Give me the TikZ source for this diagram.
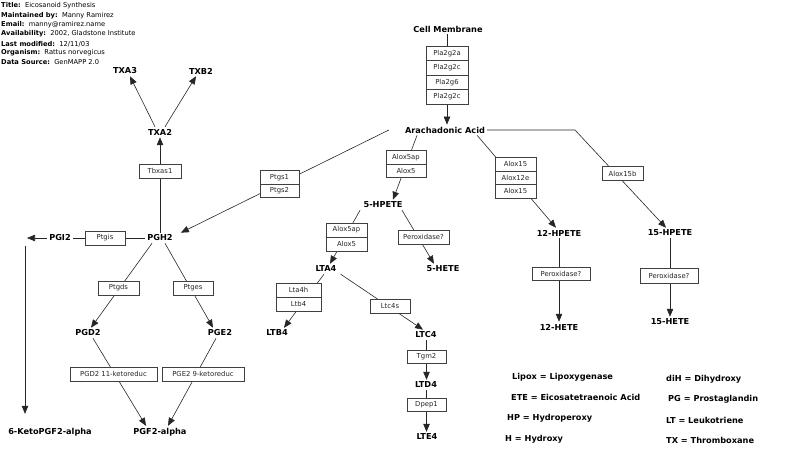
\documentclass[tikz,border=0pt]{standalone}
\usepackage{fontspec}
\setmainfont{DejaVu Sans}
\usetikzlibrary{arrows.meta,backgrounds}

\begin{document}
\begin{tikzpicture}[x=1pt,y=-1pt,
  met/.style={font=\fontsize{8.2}{9}\selectfont\bfseries, inner sep=2pt},
  gene/.style={draw=black!75, fill=white, line width=0.5pt, text=black!85,
    font=\fontsize{6.85}{7}\selectfont, inner sep=1pt, minimum height=14pt, minimum width=41pt},
  hdr/.style={anchor=west, font=\fontsize{6.7}{7}\selectfont, inner sep=0pt},
  key/.style={anchor=west, font=\fontsize{8.2}{9}\selectfont\bfseries, inner sep=0pt},
  pw/.style={draw=black!85, line width=0.6pt},
  pwarr/.style={pw, -{Triangle[length=8pt,width=6.5pt]}}]
\useasboundingbox (0,0) rectangle (800,457);

\node[hdr] (hdTitle) at (1,6) {\textbf{Title:}\ \ Eicosanoid Synthesis};
\node[hdr] (hdMaint) at (1,16) {\textbf{Maintained by:}\ \ Manny Ramirez};
\node[hdr] (hdEmail) at (1,25) {\textbf{Email:}\ \ manny@ramirez.name};
\node[hdr] (hdAvail) at (1,34) {\textbf{Availability:}\ \ 2002, Gladstone Institute};
\node[hdr] (hdMod) at (1,44) {\textbf{Last modified:}\ \ 12/11/03};
\node[hdr] (hdOrg) at (1,53) {\textbf{Organism:}\ \ Rattus norvegicus};
\node[hdr] (hdSrc) at (1,62) {\textbf{Data Source:}\ \ GenMAPP 2.0};

% metabolites
\node[met] (cm) at (448,29) {Cell Membrane};
\node[met] (aa) at (445,130) {Arachadonic Acid};
\node[met] (txa3) at (125,71) {TXA3};
\node[met] (txb2) at (201,71) {TXB2};
\node[met] (txa2) at (160,132) {TXA2};
\node[met] (pgh2) at (160,238) {PGH2};
\node[met, fill=white] (pgi2) at (60,238) {PGI2};
\node[met] (keto) at (50,432) {6-KetoPGF2-alpha};
\node[met] (pgd2) at (88,333) {PGD2};
\node[met] (pge2) at (220,333) {PGE2};
\node[met] (pgf) at (160,432) {PGF2-alpha};
\node[met] (hp5) at (383,205) {5-HPETE};
\node[met] (hete5) at (443,269) {5-HETE};
\node[met] (lta4) at (326,269) {LTA4};
\node[met] (ltb4) at (277,333) {LTB4};
\node[met] (ltc4) at (426,335) {LTC4};
\node[met] (ltd4) at (426,385) {LTD4};
\node[met] (lte4) at (427,437) {LTE4};
\node[met] (hp12) at (559,233) {12-HPETE};
\node[met] (hete12) at (559,327) {12-HETE};
\node[met] (hp15) at (670,233) {15-HPETE};
\node[met] (hete15) at (670,322) {15-HETE};

% enzymes
\node[gene, minimum width=42pt, minimum height=14.5pt] (pla1) at (447,53.5) {Pla2g2a};
\node[gene, minimum width=42pt, minimum height=14.5pt] (pla2) at (447,68) {Pla2g2c};
\node[gene, minimum width=42pt, minimum height=14.5pt] (pla3) at (447,82.5) {Pla2g6};
\node[gene, minimum width=42pt, minimum height=14.5pt] (pla4) at (447,97) {Pla2g2c};
\node[gene, minimum width=42pt] (tbxas) at (160,171) {Tbxas1};
\node[gene, minimum width=39pt, minimum height=13.5pt] (ptgs1) at (279.5,177.5) {Ptgs1};
\node[gene, minimum width=39pt, minimum height=13.5pt] (ptgs2) at (279.5,191) {Ptgs2};
\node[gene, minimum width=40pt, minimum height=13.5pt] (alox5apA) at (406,157.5) {Alox5ap};
\node[gene, minimum width=40pt, minimum height=13.5pt] (alox5A) at (406,171) {Alox5};
\node[gene, minimum height=13.7pt] (alox15a) at (515.5,164) {Alox15};
\node[gene, minimum height=13.7pt] (alox12e) at (515.5,177.7) {Alox12e};
\node[gene, minimum height=13.7pt] (alox15c) at (515.5,191.4) {Alox15};
\node[gene, minimum height=13.5pt] (alox15b) at (622.5,173.5) {Alox15b};
\node[gene, minimum width=40pt] (ptgis) at (105,238) {Ptgis};
\node[gene] (alox5apB) at (346.5,230) {Alox5ap};
\node[gene] (alox5B) at (346.5,244) {Alox5};
\node[gene, minimum width=51pt] (perox5) at (423.5,237) {Peroxidase?};
\node[gene, minimum width=45pt] (lta4h) at (298.5,290) {Lta4h};
\node[gene, minimum width=45pt] (ltb4e) at (298.5,304) {Ltb4};
\node[gene, minimum width=40pt] (ltc4s) at (390,306) {Ltc4s};
\node[gene, minimum width=39pt, minimum height=13pt] (tgm2) at (426.5,356.5) {Tgm2};
\node[gene, minimum width=39pt, minimum height=13pt] (dpep1) at (426.5,404.5) {Dpep1};
\node[gene] (ptgds) at (118.5,288) {Ptgds};
\node[gene, minimum width=40pt] (ptges) at (193,288) {Ptges};
\node[gene, minimum width=87pt] (pgd2red) at (113.5,374) {PGD2 11-ketoreduc};
\node[gene, minimum width=82pt] (pge2red) at (203,374) {PGE2 9-ketoreduc};
\node[gene, minimum width=58pt, minimum height=13.5pt] (perox12) at (561,273.5) {Peroxidase?};
\node[gene, minimum width=58pt, minimum height=15pt] (perox15) at (669,275.5) {Peroxidase?};

\coordinate (bend15) at (575,130);
\coordinate (pgiTip) at (27,238);
\coordinate (ketoTop) at (25,246);

% reactions
\begin{scope}[on background layer]
\draw[pwarr] (cm.south -| pla1) -- (aa.north -| pla1);
\draw[pwarr] ([xshift=-14pt]aa.west) -- ([xshift=6pt]pgh2.north east);
\draw[pwarr] ([xshift=-28pt]aa.south) -- ([xshift=10pt]hp5.north);
\draw[pwarr] ([xshift=-10pt]aa.south east) -- ([xshift=-3pt]hp12.north);
\draw[pwarr] (aa.east) -- (bend15) -- ([xshift=-4pt]hp15.north);
\draw[pwarr] (pgh2.north) -- (txa2.south);
\draw[pwarr] ([xshift=-5pt]txa2.north) -- ([xshift=5pt]txa3.south);
\draw[pwarr] ([xshift=5pt]txa2.north) -- ([xshift=-5pt]txb2.south);
\draw[pwarr] (pgh2.west) -- (pgiTip);
\draw[pwarr, shorten >=12pt] (ketoTop) -- (ketoTop |- keto.north);
\draw[pwarr] ([xshift=-8pt]pgh2.south) -- ([xshift=3pt]pgd2.north);
\draw[pwarr] ([xshift=5pt]pgh2.south) -- ([xshift=-7pt]pge2.north);
\draw[pwarr] ([xshift=5pt]pgd2.south) -- ([xshift=-14pt]pgf.north);
\draw[pwarr] ([xshift=-4pt]pge2.south) -- ([xshift=8pt]pgf.north);
\draw[pwarr] ([xshift=-23pt]hp5.south) -- ([xshift=4pt]lta4.north);
\draw[pwarr] ([xshift=19pt]hp5.south) -- ([xshift=-9pt]hete5.north);
\draw[pwarr] ([xshift=-2pt]lta4.south) -- ([xshift=7pt]ltb4.north);
\draw[pwarr] ([xshift=2pt]lta4.south east) -- ([xshift=-3pt]ltc4.north);
\draw[pwarr] (ltc4.south -| tgm2) -- (ltd4.north -| tgm2);
\draw[pwarr] (ltd4.south -| dpep1) -- (lte4.north -| dpep1);
\draw[pwarr] (hp12.south) -- (hete12.north);
\draw[pwarr] (hp15.south) -- (hete15.north);
\end{scope}

% abbreviations
\node[key] (kLipox) at (512,377) {Lipox = Lipoxygenase};
\node[key] (kEte) at (511,397) {ETE = Eicosatetraenoic Acid};
\node[key] (kHp) at (507,418) {HP = Hydroperoxy};
\node[key] (kH) at (505,439) {H = Hydroxy};
\node[key] (kDih) at (666,379) {diH = Dihydroxy};
\node[key] (kPg) at (668,399) {PG = Prostaglandin};
\node[key] (kLt) at (666,420) {LT = Leukotriene};
\node[key] (kTx) at (666,440) {TX = Thromboxane};
\end{tikzpicture}
\end{document}
